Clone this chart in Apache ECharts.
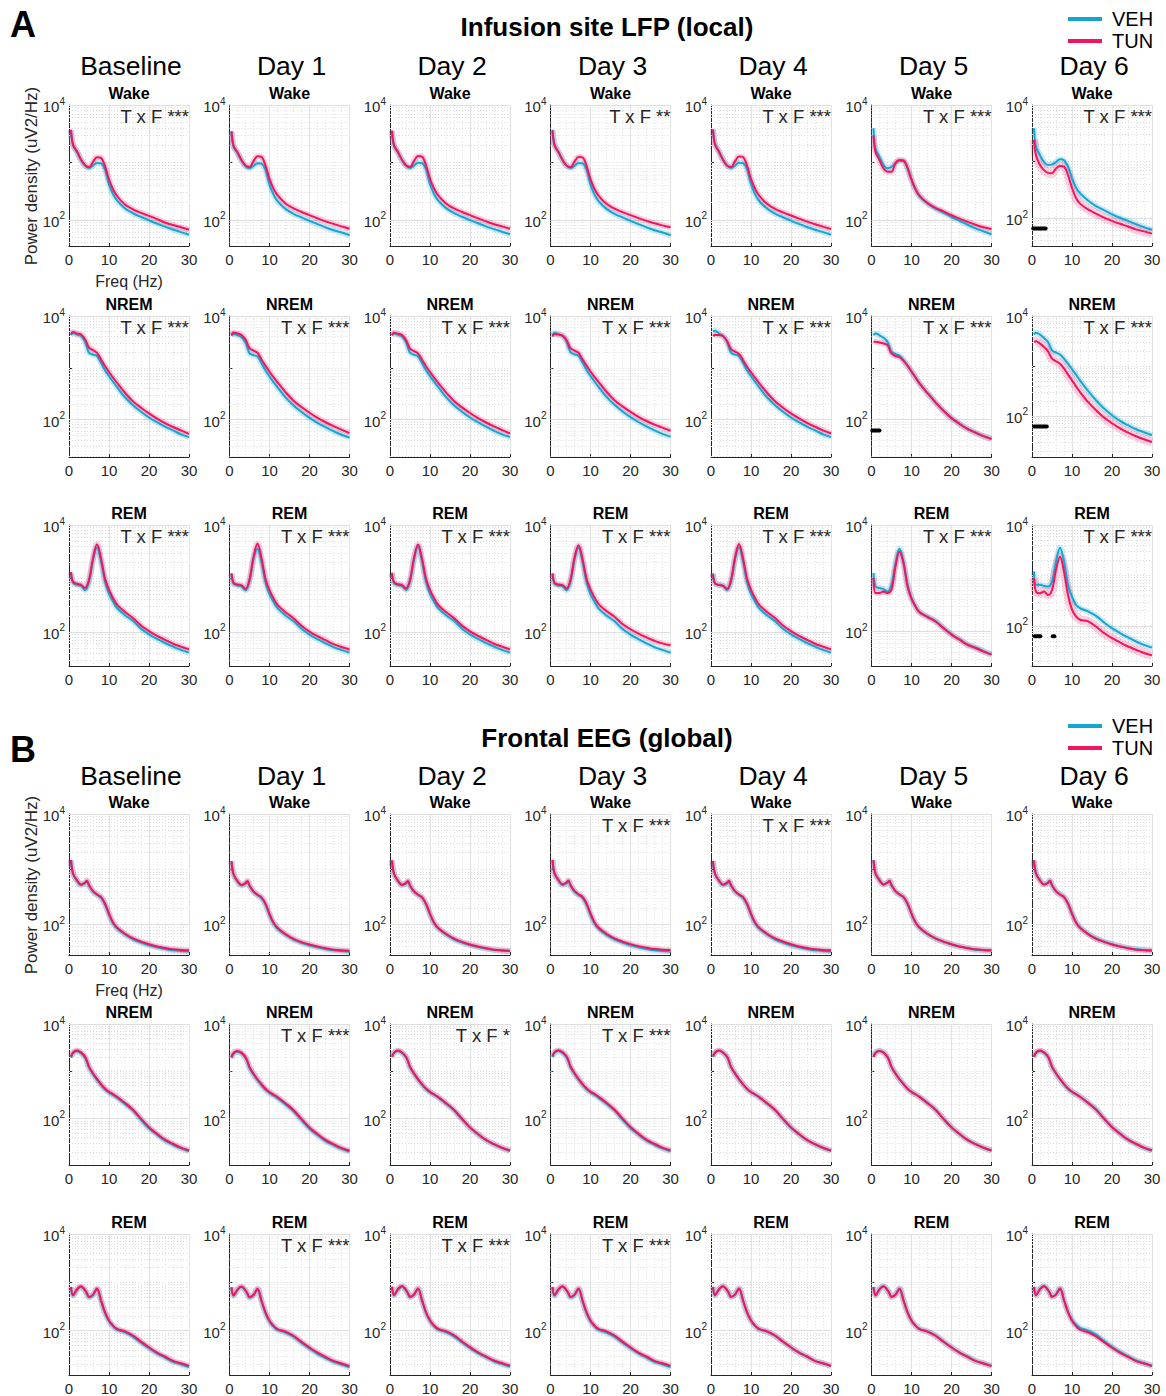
<!DOCTYPE html>
<html><head><meta charset="utf-8">
<script src="https://cdn.jsdelivr.net/npm/echarts@6/dist/echarts.min.js"></script>
<style>html,body{margin:0;padding:0;background:#fff}#c{width:1166px;height:1396px}</style>
</head><body><div id="c"></div>
<script>
// ---------------- DATA ----------------
const DAYS = ['Baseline', 'Day 1', 'Day 2', 'Day 3', 'Day 4', 'Day 5', 'Day 6'];
const STATES = ['Wake', 'NREM', 'REM'];
const PANEL_LETTERS = ['A', 'B'];
const PANEL_TITLES = ['Infusion site LFP (local)', 'Frontal EEG (global)'];
const GROUPS = ['VEH', 'TUN'];
const X_TICKS = [0, 10, 20, 30];
const Y_TICK_LABELS = [100, 10000];

const FREQ_A = [0.5,1,2,3,4,5,6,7,8,9,10,11,12,14,16,18,20,22,24,26,28,30];
const FREQ_B = [0.5,1,2,3,4,4.5,5,6,7,8,9,10,11,12,14,16,18,20,22,24,26,28,30];

const A_WAKE_VEH = [
 [3600,2000,1500,1100,880,800,880,980,960,750,415,280,218,158,130,112,98,86,76,68,61,55],
 [3400,1900,1450,1080,860,790,870,970,950,740,410,275,212,155,127,110,96,84,74,66,60,54],
 [3500,1950,1480,1090,870,800,880,990,970,760,420,282,218,160,131,113,99,87,77,69,62,56],
 [3700,2050,1520,1110,880,800,870,980,960,750,410,275,212,155,127,110,96,84,74,66,60,54],
 [3800,2100,1550,1120,880,800,880,990,970,760,420,280,215,157,128,111,97,85,75,67,61,55],
 [3930,1740,1250,900,790,840,960,1070,1060,790,500,340,260,193,156,133,112,96,82,71,63,56],
 [3870,1800,1290,980,865,890,980,1100,1050,810,505,345,276,204,162,138,116,101,89,78,69,62]
];
const A_WAKE_TUN = [
 [3700,2040,1560,1120,890,820,1020,1230,1200,860,500,340,260,185,152,132,117,103,90,81,74,67],
 [3500,1950,1500,1100,880,830,1050,1280,1250,880,510,350,268,192,158,137,121,106,94,85,77,70],
 [3600,2000,1520,1110,890,830,1060,1290,1260,890,515,352,270,193,158,137,121,106,94,84,77,70],
 [3600,2000,1500,1100,880,820,1030,1240,1220,870,505,345,265,190,156,136,121,107,96,87,80,74],
 [3700,2050,1530,1110,880,830,1050,1270,1240,880,510,348,266,190,155,135,119,105,93,84,76,69],
 [2950,1520,1100,790,690,690,980,1100,1080,810,500,340,262,196,162,140,120,105,92,82,74,69],
 [2410,1290,865,705,630,620,755,830,810,575,340,226,180,142,120,102,89,79,71,63,58,53]
];
const A_NREM_VEH = [
 [4280,4700,4400,4100,3200,1950,1800,1690,1250,900,690,540,425,270,190,142,110,89,73,62,52,46],
 [4100,4500,4300,3900,3100,1900,1750,1650,1230,890,680,530,420,268,188,140,108,87,72,60,51,45],
 [4200,4600,4350,4000,3150,1950,1780,1670,1240,900,690,540,428,272,190,142,110,89,73,61,52,46],
 [4300,4700,4450,4100,3250,2000,1820,1700,1260,910,700,545,430,275,193,144,112,90,74,62,53,47],
 [5000,5200,4600,4100,3200,1950,1800,1690,1250,900,690,540,425,270,190,142,110,89,73,62,52,46],
 [4250,4600,4250,3790,3170,2040,1840,1700,1410,1100,850,650,500,325,215,148,107,83,66,56,48,42.5],
 [4240,4640,4240,3630,3020,2060,1850,1690,1400,1110,860,670,515,316,205,140,103,79,65,54,47,41]
];
const A_NREM_TUN = [
 [4420,4900,4600,4400,3550,2450,2200,1950,1450,1080,830,650,515,330,225,170,132,105,86,72,62,53],
 [4300,4800,4600,4300,3500,2400,2150,1950,1450,1090,840,660,525,340,232,175,136,108,89,75,64,55],
 [4300,4750,4550,4300,3450,2350,2100,1900,1430,1070,830,650,515,335,228,172,134,107,88,74,63,54],
 [4000,4500,4400,4200,3450,2400,2150,1950,1460,1100,850,670,535,345,237,180,141,113,94,80,70,61],
 [4100,4300,4300,4100,3300,2300,2050,1850,1400,1050,820,645,512,330,226,170,132,106,87,73,62,54],
 [3170,3170,3080,2950,2740,1900,1690,1600,1360,1100,850,650,500,325,215,148,107,83,66,56,48,42],
 [3020,3110,2800,2400,1960,1400,1240,1110,890,670,515,390,300,190,130,93,71,56,46,39,34,30]
];
const A_REM_VEH = [
 [1250,830,760,730,600,870,2200,3800,2100,870,520,370,280,205,160,115,90,74,62,53,46,41],
 [1200,800,740,710,600,900,2300,3600,2000,850,510,365,278,203,158,114,89,73,61,52,46,41],
 [1250,820,750,720,610,880,2250,3900,2100,860,515,368,280,205,160,115,90,74,62,53,46,41],
 [1200,800,740,720,600,880,2250,3800,2050,850,510,365,276,202,158,113,89,73,61,52,46,41],
 [1250,820,760,730,610,880,2250,3850,2100,860,515,368,279,204,159,114,90,74,62,53,46,41],
 [1240,690,650,620,560,750,1910,3550,2050,750,420,295,230,187,155,115,87,70,56,49,42,36.5],
 [1200,650,650,620,600,760,1880,3550,1880,650,380,262,225,193,158,117,90,72,59,49,42,37]
];
const A_REM_TUN = [
 [1310,870,795,760,660,945,2400,4370,2400,1000,610,430,325,236,182,132,103,84,71,60,53,47],
 [1250,830,770,740,640,950,2500,4500,2400,980,600,425,320,233,180,130,101,83,70,59,52,47],
 [1280,850,780,750,650,940,2450,4300,2350,990,605,428,322,235,181,131,102,84,71,60,53,47],
 [1250,830,770,750,650,950,2450,4200,2350,1000,615,440,335,245,192,140,112,93,79,68,61,56],
 [1200,800,750,730,640,930,2450,4400,2400,1000,608,430,325,236,182,132,103,84,71,60,53,47],
 [1000,520,520,560,520,610,1650,3160,1900,700,410,290,226,184,152,113,86,69,55,48,41,36],
 [880,480,445,480,410,515,1290,2350,1200,410,210,155,132,123,97,72,57,47,39,33.5,29,26]
];

const B_WAKE_VEH = [
 [1450,830,620,520,555,600,510,395,345,305,230,150,105,85,66,54,47,42,38.5,36,34,33,32.5],
 [1380,810,600,510,545,590,500,390,340,300,228,148,104,84,65,53,46.5,42,38.5,36,34,33,32],
 [1430,820,610,515,550,600,505,392,342,305,232,152,106,85,66,54,47,42.5,39,36.5,34.5,33.5,33],
 [1460,840,625,520,555,605,505,395,343,303,228,149,104,84,65,53.5,47,42,38.5,36,34,33,32.5],
 [1400,820,615,515,550,595,505,392,343,303,230,150,105,85,66,54,47,42,38.5,36,34,33,32.5],
 [1470,845,635,530,565,615,512,398,348,312,237,155,109,87,67,55.5,48.5,43.5,40,37,35,34,33.5],
 [1460,840,630,530,570,620,515,400,350,315,240,158,110,88,68,56,49,44,40,37.5,35.5,34.5,34]
];
const B_WAKE_TUN = [
 [1470,840,630,530,570,620,515,400,350,315,240,157,110,88,68,56,49,44,40,37.5,35.5,34.5,34],
 [1400,820,610,520,560,610,505,395,345,310,238,155,108,87,67,55,48,43.5,40,37,35,34,33.5],
 [1450,830,620,525,565,615,510,398,348,312,238,156,109,87,68,55.5,48.5,43.5,40,37,35,34,33.5],
 [1480,850,640,535,575,625,520,405,352,318,242,158,110,88,68,56,49,44,40.5,38,36,35,34.5],
 [1420,830,630,530,570,620,515,400,350,315,240,157,110,88,68,56,49,44,40,37.5,35.5,34.5,34],
 [1460,840,630,530,570,620,515,400,350,315,240,157,110,88,68,56,49,44,40,37.5,35.5,34.5,34],
 [1450,835,625,528,568,618,512,398,348,313,238,156,109,87,67,55,48.5,43.5,40,37,35,34,33.5]
];
const B_NREM_VEH = [
 [1950,2400,2650,2420,1950,1580,1200,870,660,515,415,355,315,278,205,148,95,63,46,34.5,28,23.5,20.5],
 [1900,2350,2600,2380,1920,1550,1180,860,650,508,408,348,308,272,200,144,93,61.5,45,33.5,27.5,23,20],
 [2000,2430,2680,2450,1980,1600,1220,885,670,525,422,360,320,282,208,150,97,64,46.5,35,28.5,23.8,20.8],
 [2000,2450,2700,2450,1980,1600,1220,880,665,520,418,357,317,279,206,148,96,63.5,46,34.5,28,23.5,20.5],
 [2020,2470,2720,2480,2010,1620,1235,895,676,528,424,362,322,284,210,151,97.5,64.5,47,35,28.5,24,21],
 [2030,2480,2730,2490,2020,1630,1245,902,683,536,431,367,328,289,214,154,99,65.5,47.5,35.5,29,24.3,21.3],
 [2000,2450,2700,2470,2010,1620,1240,895,680,532,428,366,328,290,218,158,102,67,48.5,36,29,24,21]
];
const B_NREM_TUN = [
 [2050,2500,2760,2520,2050,1650,1260,910,690,540,435,370,330,290,215,155,100,66,48,36,29.5,24.5,21.5],
 [2000,2450,2700,2480,2000,1620,1240,900,680,535,430,365,325,287,212,153,99,65,47.5,35.5,29,24,21],
 [2050,2480,2740,2500,2030,1640,1250,905,685,538,432,368,328,288,214,154,99.5,65.5,47.5,35.5,29,24.3,21.3],
 [2100,2550,2800,2550,2080,1680,1280,920,695,545,438,373,333,292,217,156,101,66.5,48,36,29.5,24.5,21.5],
 [2050,2500,2750,2500,2040,1640,1250,905,685,535,430,366,327,288,213,154,99,65.5,47.5,35.5,29,24.3,21.3],
 [2000,2450,2700,2480,2000,1620,1240,900,680,535,430,366,327,288,213,154,99,65.5,47.5,35.5,29,24.3,21.3],
 [2050,2500,2760,2520,2050,1650,1260,910,690,540,435,370,330,290,215,155,100,66,48,36,29.5,24.5,21.5]
];
const B_REM_VEH = [
 [780,530,700,800,670,570,485,540,720,410,230,156,122,104,92,75,56,43,33.5,27.5,22.5,20,17.5],
 [770,525,695,795,665,565,480,535,715,405,228,154,121,103,91,74.5,55.5,42.5,33,27,22.5,19.8,17.3],
 [790,535,705,810,675,575,490,545,725,413,232,157,123,105,93,76,57,43.5,34,28,23,20.2,17.8],
 [780,528,700,805,670,572,485,540,718,408,230,155,121,103,91,75,56,43,33.5,27.5,22.5,20,17.5],
 [795,537,715,825,686,587,497,552,737,422,238,161,126,107,95,78,58.5,44.5,34.8,28.8,23.3,20.8,18.3],
 [800,540,720,830,690,590,500,555,740,425,240,162,127,108,96,79,59,45,35,29,23.5,21,18.5],
 [805,545,725,835,695,595,505,560,745,430,246,168,133,114,101,82,61,46,36,29.5,24,21.2,18.6]
];
const B_REM_TUN = [
 [800,540,720,830,690,590,500,555,740,425,240,162,127,108,96,79,59,45,35,29,23.5,21,18.5],
 [790,535,715,820,680,585,495,550,735,420,238,160,126,107,95,78,58.5,44.5,35,28.5,23.5,20.8,18.3],
 [810,545,725,835,695,595,505,560,745,428,242,164,128,109,97,80,60,45.5,35.5,29,24,21.2,18.7],
 [800,540,720,830,690,590,500,555,740,425,240,162,127,108,96,79,59,45,35,29,23.5,21,18.5],
 [800,540,720,830,690,590,500,555,740,425,240,162,127,108,96,79,59,45,35,29,23.5,21,18.5],
 [790,535,715,825,685,585,497,550,735,422,238,160,126,107,95,78,58.5,44.5,35,28.5,23.5,20.8,18.3],
 [800,540,720,830,690,590,500,555,740,425,240,160,124,104,92,76,57.5,44,34.5,28.5,23.3,20.8,18.3]
];

// statistics annotation (Treatment x Frequency), per state row, per day
const STATS_A = [
 ['***', '', '', '**', '***', '***', '***'],
 ['***', '***', '***', '***', '***', '***', '***'],
 ['***', '***', '***', '***', '***', '***', '***']
];
const STATS_B = [
 ['', '', '', '***', '***', '', ''],
 ['', '***', '*', '***', '', '', ''],
 ['', '***', '***', '***', '', '', '']
];

// significance markers: [panel, state row, day col, power level, [freqStart, freqEnd]]
const SIG_MARKS = [
 [0, 0, 6, 65, [0.3, 3.4]],
 [0, 1, 5, 62, [0.2, 2.0]],
 [0, 1, 6, 61, [0.5, 3.7]],
 [0, 2, 6, 62, [0.7, 1.2]],
 [0, 2, 6, 62, [1.6, 2.1]],
 [0, 2, 6, 62, [5.2, 5.6]]
];

// lower y-axis limits per plot (MATLAB auto limits)
const YMIN_A = [
 [35, 35, 35, 35, 35, 35, 32],
 [19, 19, 19, 19, 19, 19, 15],
 [23, 23, 23, 23, 23, 22, 16]
];
const YMIN_B = [
 [28, 28, 28, 28, 28, 28, 28],
 [10.5, 10.5, 10.5, 10.5, 10.5, 10.5, 10.5],
 [12, 12, 12, 12, 12, 12, 12]
];
const Y_MAX = 10000;
const LOG_MINOR = [20,30,40,50,60,70,80,90,200,300,400,500,600,700,800,900,1000,2000,3000,4000,5000,6000,7000,8000,9000];

// ---------------- LAYOUT / STYLE ----------------
const FONT = '"Liberation Sans", Arial, Helvetica, sans-serif';
const VEH_COLOR = '#15a5d3';
const TUN_COLOR = '#f2145d';
const AX_COLOR = '#262626';
const LEFT0 = 69, COL_STEP = 160.5, PLOT_W = 120, PLOT_H = 141;
const ROW_TOPS = [[105, 316, 525], [814, 1024, 1234]];
const PANEL_Y = [{letter: 24, title: 27, day: 66, legend: 4, freq: 281, ylab: 176},
                 {letter: 749, title: 738, day: 776, legend: 711, freq: 990, ylab: 885}];

const DATA = [
  {freq: FREQ_A, veh: [A_WAKE_VEH, A_NREM_VEH, A_REM_VEH], tun: [A_WAKE_TUN, A_NREM_TUN, A_REM_TUN], stats: STATS_A, ymin: YMIN_A},
  {freq: FREQ_B, veh: [B_WAKE_VEH, B_NREM_VEH, B_REM_VEH], tun: [B_WAKE_TUN, B_NREM_TUN, B_REM_TUN], stats: STATS_B, ymin: YMIN_B}
];

const grids = [], xAxes = [], yAxes = [], series = [], graphics = [];
const pair = (xs, ys) => xs.map((x, i) => [x, ys[i]]);

function text(x, y, str, opt) {
  const o = Object.assign({}, opt || {});
  const rot = o.rotation; delete o.rotation;
  const st = Object.assign({text: str, x: 0, y: 0, fontFamily: FONT, fontSize: 15, fill: '#000',
    align: 'center', verticalAlign: 'middle'}, o);
  st.textAlign = st.align;
  st.textVerticalAlign = st.verticalAlign;
  const el = {type: 'text', x: x, y: y, silent: true, z: 10, style: st};
  if (rot) el.rotation = rot;
  graphics.push(el);
}

DATA.forEach((g, p) => {
  const py = PANEL_Y[p];
  text(10, py.letter, PANEL_LETTERS[p], {fontSize: 36, fontWeight: 'bold', align: 'left'});
  text(607, py.title, PANEL_TITLES[p], {fontSize: 26, fontWeight: 'bold'});
  text(31, py.ylab, 'Power density (uV2/Hz)', {fontSize: 17, fill: AX_COLOR, rotation: Math.PI / 2});
  text(LEFT0 + PLOT_W / 2, py.freq, 'Freq (Hz)', {fontSize: 16, fill: AX_COLOR});
  DAYS.forEach((d, c) => text(LEFT0 + c * COL_STEP + PLOT_W / 2 + 2, py.day, d, {fontSize: 26.5}));

  for (let r = 0; r < 3; r++) {
    for (let c = 0; c < 7; c++) {
      const idx = grids.length;
      const left = LEFT0 + c * COL_STEP, top = ROW_TOPS[p][r];
      const ymin = g.ymin[r][c];
      grids.push({left: left, top: top, width: PLOT_W, height: PLOT_H});
      xAxes.push({
        gridIndex: idx, type: 'value', min: X_TICKS[0], max: X_TICKS[X_TICKS.length - 1], interval: 10,
        axisLine: {show: true, onZero: false, lineStyle: {color: AX_COLOR, width: 1}},
        axisTick: {show: true, inside: true, length: 3, lineStyle: {color: AX_COLOR}},
        axisLabel: {show: true, fontSize: 15, color: AX_COLOR, margin: 6, fontFamily: FONT},
        splitLine: {show: true, lineStyle: {color: '#e2e2e2', width: 1}},
        minorTick: {show: false, splitNumber: 5},
        minorSplitLine: {show: true, lineStyle: {color: '#e3e3e3', width: 1, type: [1, 2]}}
      });
      yAxes.push({
        gridIndex: idx, type: 'log', logBase: 10, min: ymin, max: Y_MAX,
        axisLine: {show: true, onZero: false, lineStyle: {color: AX_COLOR, width: 1}},
        axisTick: {show: true, inside: true, length: 3, lineStyle: {color: AX_COLOR}},
        axisLabel: {
          show: true, margin: 4, showMinLabel: false,
          formatter: function (v) {
            for (const t of Y_TICK_LABELS) {
              if (Math.abs(Math.log10(v) - Math.log10(t)) < 1e-6) return '{b|10}{s|' + Math.round(Math.log10(t)) + '}';
            }
            return '';
          },
          rich: {
            b: {fontSize: 15, color: AX_COLOR, fontFamily: FONT, lineHeight: 18, verticalAlign: 'bottom'},
            s: {fontSize: 10, color: AX_COLOR, fontFamily: FONT, lineHeight: 18, verticalAlign: 'top'}
          }
        },
        splitLine: {show: false}
      });

      // grid lines (log minor dotted + major solid)
      const gl = LOG_MINOR.filter(v => v > ymin).map(v => ({yAxis: v, lineStyle: {type: [1, 2], color: '#dcdcdc', width: 1}}));
      gl.push({yAxis: Y_TICK_LABELS[0], lineStyle: {type: 'solid', color: '#dedede', width: 1}});
      gl.push({yAxis: Y_TICK_LABELS[1], lineStyle: {type: 'solid', color: '#dedede', width: 1}});

      const veh = pair(g.freq, g.veh[r][c]);
      const tun = pair(g.freq, g.tun[r][c]);
      const bandW = (p === 0 && c === 6) ? 9 : 6;
      series.push({
        name: 'VEH band', type: 'line', xAxisIndex: idx, yAxisIndex: idx, data: veh, smooth: 0.35,
        symbol: 'none', silent: true, z: 2,
        lineStyle: {color: VEH_COLOR, width: 6, opacity: 0.22},
        markLine: {silent: true, symbol: 'none', z: 1, label: {show: false}, emphasis: {disabled: true}, data: gl}
      });
      series.push({
        name: 'TUN band', type: 'line', xAxisIndex: idx, yAxisIndex: idx, data: tun, smooth: 0.35,
        symbol: 'none', silent: true, z: 2,
        lineStyle: {color: TUN_COLOR, width: bandW, opacity: 0.2}
      });
      series.push({
        name: 'VEH', type: 'line', xAxisIndex: idx, yAxisIndex: idx, data: veh, smooth: 0.35,
        symbol: 'none', z: 3, color: VEH_COLOR, lineStyle: {color: VEH_COLOR, width: 2}
      });
      series.push({
        name: 'TUN', type: 'line', xAxisIndex: idx, yAxisIndex: idx, data: tun, smooth: 0.35,
        symbol: 'none', z: 4, color: TUN_COLOR, lineStyle: {color: TUN_COLOR, width: 2}
      });

      SIG_MARKS.filter(m => m[0] === p && m[1] === r && m[2] === c).forEach(m => {
        series.push({
          name: 'sig', type: 'line', xAxisIndex: idx, yAxisIndex: idx, symbol: 'none', z: 5, silent: true,
          data: [[m[4][0], m[3]], [m[4][1], m[3]]],
          lineStyle: {color: '#000', width: 4, cap: 'round'}
        });
      });

      // state label
      text(left + PLOT_W / 2, top - 12, STATES[r], {fontSize: 16, fontWeight: 'bold'});
      // statistics
      const s = g.stats[r][c];
      if (s) text(left + PLOT_W, top + 11, 'T x F ' + s, {fontSize: 18.5, fill: '#262626', align: 'right'});
    }
  }
});

const legends = PANEL_Y.map(py => ({
  data: GROUPS, orient: 'vertical', left: 1063, top: py.legend, icon: 'rect',
  itemWidth: 34, itemHeight: 4, itemGap: 2, selectedMode: false,
  textStyle: {fontSize: 20, color: '#000', fontFamily: FONT, padding: [0, 0, 0, 5]}
}));

const chart = echarts.init(document.getElementById('c'), null, {renderer: 'svg', width: 1166, height: 1396});
chart.setOption({
  animation: false,
  backgroundColor: '#fff',
  textStyle: {fontFamily: FONT},
  legend: legends,
  grid: grids,
  xAxis: xAxes,
  yAxis: yAxes,
  series: series,
  graphic: {elements: graphics}
});
</script></body></html>
